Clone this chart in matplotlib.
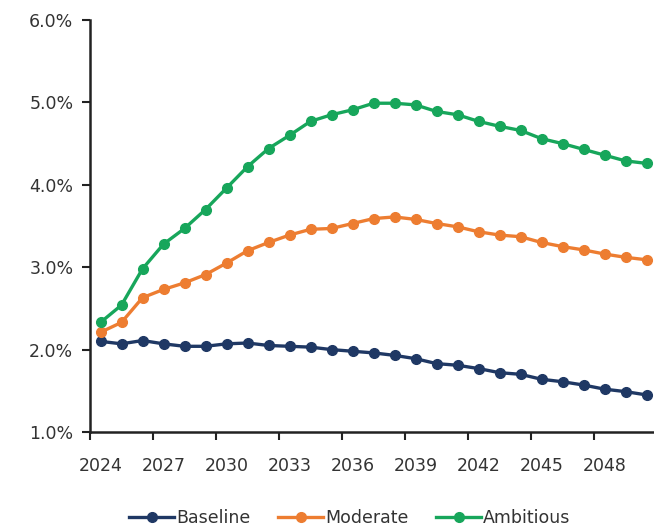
import numpy as np
import matplotlib.pyplot as plt
from matplotlib.ticker import FixedLocator, PercentFormatter

years = list(range(2024, 2051))
baseline = [2.10, 2.07, 2.11, 2.07, 2.04, 2.04, 2.07, 2.08, 2.05, 2.04, 2.03, 2.00, 1.98, 1.96,
            1.93, 1.89, 1.83, 1.81, 1.77, 1.72, 1.70, 1.64, 1.61, 1.57, 1.52, 1.49, 1.45]
moderate = [2.21, 2.33, 2.63, 2.73, 2.81, 2.91, 3.05, 3.20, 3.30, 3.39, 3.46, 3.47, 3.53, 3.59,
            3.61, 3.58, 3.53, 3.49, 3.43, 3.39, 3.37, 3.30, 3.25, 3.21, 3.16, 3.12, 3.09]
ambitious = [2.33, 2.54, 2.98, 3.28, 3.47, 3.70, 3.96, 4.22, 4.44, 4.60, 4.77, 4.85, 4.91, 4.99,
             4.99, 4.97, 4.89, 4.85, 4.77, 4.71, 4.66, 4.56, 4.50, 4.43, 4.36, 4.29, 4.26]

series = [('Baseline', baseline, '#1F3864'),
          ('Moderate', moderate, '#ED7D31'),
          ('Ambitious', ambitious, '#17A65B')]

txt = '#333333'
plt.rcParams['font.family'] = ['DejaVu Sans']

fig = plt.figure(figsize=(6.54, 5.29), dpi=100)
ax = fig.add_axes([90 / 654, 1 - 432 / 529, 567 / 654, 412 / 529])

x = np.arange(len(years))
for name, vals, col in series:
    ax.plot(x, vals, '-o', color=col, lw=2.4, ms=7, label=name)

ax.set_xlim(-0.5, len(years) - 0.5)
ax.set_ylim(1.0, 6.0)
ax.set_yticks(np.arange(1.0, 6.01, 1.0))
ax.yaxis.set_major_formatter(PercentFormatter(decimals=1))

ax.set_xticks(x[::3])
ax.set_xticklabels([str(y) for y in years[::3]])
ax.xaxis.set_minor_locator(FixedLocator(np.arange(-0.5, len(years), 3)))
ax.tick_params(axis='x', which='major', length=0, pad=18, labelsize=12.5, labelcolor=txt)
ax.tick_params(axis='x', which='minor', length=6, width=1.5, color='#222222', direction='out')
ax.tick_params(axis='y', length=6, width=1.5, color='#222222', labelsize=12.5, labelcolor=txt, pad=6)

for s in ['top', 'right']:
    ax.spines[s].set_visible(False)
for s in ['left', 'bottom']:
    ax.spines[s].set_color('#222222')
    ax.spines[s].set_linewidth(1.8)

fig.legend(loc='lower center', bbox_to_anchor=(0.535, -0.025), ncol=3, frameon=False,
           fontsize=12.5, handlelength=2.6, handletextpad=0.1, columnspacing=1.6,
           labelcolor=txt)

fig.savefig('out.png', dpi=100)
